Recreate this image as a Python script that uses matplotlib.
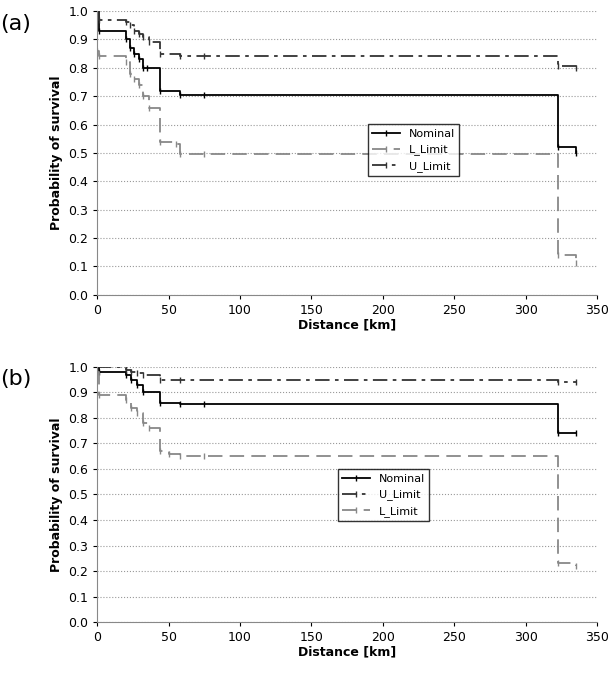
import matplotlib
matplotlib.use("Agg")
import matplotlib.pyplot as plt

# panel (a)
a_nom_x = [0, 1, 20, 23, 26, 29, 32, 35, 44, 58, 75, 323, 335]
a_nom_y = [1.0, 0.93, 0.90, 0.87, 0.85, 0.83, 0.80, 0.80, 0.72, 0.705, 0.705, 0.52, 0.50]
a_low_x = [0, 1, 20, 23, 26, 29, 32, 36, 44, 55, 58, 75, 323, 335]
a_low_y = [0.86, 0.84, 0.82, 0.78, 0.76, 0.74, 0.70, 0.66, 0.54, 0.53, 0.495, 0.495, 0.14, 0.11]
a_up_x = [0, 1, 20, 23, 26, 29, 32, 36, 44, 58, 75, 323, 335]
a_up_y = [1.0, 0.97, 0.96, 0.95, 0.93, 0.92, 0.91, 0.89, 0.85, 0.84, 0.84, 0.805, 0.80]

# panel (b)
b_nom_x = [0, 1, 20, 24, 28, 32, 44, 58, 75, 323, 335]
b_nom_y = [1.0, 0.98, 0.97, 0.95, 0.93, 0.90, 0.86, 0.855, 0.855, 0.74, 0.74]
b_up_x = [0, 20, 24, 28, 32, 44, 58, 323, 335]
b_up_y = [1.0, 0.99, 0.98, 0.975, 0.968, 0.95, 0.947, 0.942, 0.94]
b_low_x = [0, 1, 20, 24, 28, 32, 36, 44, 50, 58, 75, 323, 335]
b_low_y = [0.98, 0.89, 0.87, 0.84, 0.82, 0.78, 0.76, 0.67, 0.66, 0.65, 0.65, 0.23, 0.22]

fig = plt.figure(figsize=(6.11, 6.95), dpi=100)
ax1 = fig.add_axes([0.159, 0.576, 0.818, 0.408])
ax2 = fig.add_axes([0.159, 0.105, 0.818, 0.367])

def style(ax):
    ax.set_xlim(0, 350)
    ax.set_ylim(0, 1.0)
    ax.set_xticks(range(0, 351, 50))
    ax.set_yticks([i / 10 for i in range(11)])
    ax.set_yticklabels([f"{i / 10:.1f}" for i in range(11)])
    ax.yaxis.grid(True, linestyle=":", color="#999999", linewidth=0.8)
    ax.tick_params(labelsize=9, length=3)
    for s in ["top", "right"]:
        ax.spines[s].set_visible(False)
    for s in ["left", "bottom"]:
        ax.spines[s].set_color("#888888")
    ax.set_xlabel("Distance [km]", fontsize=9, fontweight="bold", labelpad=1)
    ax.set_ylabel("Probability of survival", fontsize=9, fontweight="bold")

ax1.plot(a_nom_x, a_nom_y, drawstyle="steps-post", color="black", lw=1.3, marker="|", ms=4, label="Nominal")
ax1.plot(a_low_x, a_low_y, drawstyle="steps-post", color="#888888", lw=1.3, ls=(0, (8, 4)), marker="|", ms=4, label="L_Limit")
ax1.plot(a_up_x, a_up_y, drawstyle="steps-post", color="#333333", lw=1.3, ls=(0, (8, 3, 2, 3)), marker="|", ms=4, label="U_Limit")
style(ax1)
ax1.legend(loc="upper left", bbox_to_anchor=(0.53, 0.62), fontsize=8, frameon=True, fancybox=False, edgecolor="black", handlelength=2.5)

ax2.plot(b_nom_x, b_nom_y, drawstyle="steps-post", color="black", lw=1.3, marker="|", ms=4, label="Nominal")
ax2.plot(b_up_x, b_up_y, drawstyle="steps-post", color="#333333", lw=1.3, ls=(0, (8, 3, 2, 3)), marker="|", ms=4, label="U_Limit")
ax2.plot(b_low_x, b_low_y, drawstyle="steps-post", color="#888888", lw=1.3, ls=(0, (8, 4)), marker="|", ms=4, label="L_Limit")
style(ax2)
ax2.legend(loc="upper left", bbox_to_anchor=(0.47, 0.62), fontsize=8, frameon=True, fancybox=False, edgecolor="black", handlelength=2.5)

fig.text(0.0, 0.965, "(a)", fontsize=16, va="center")
fig.text(0.0, 0.455, "(b)", fontsize=16, va="center")

fig.savefig("out.png", dpi=100)
